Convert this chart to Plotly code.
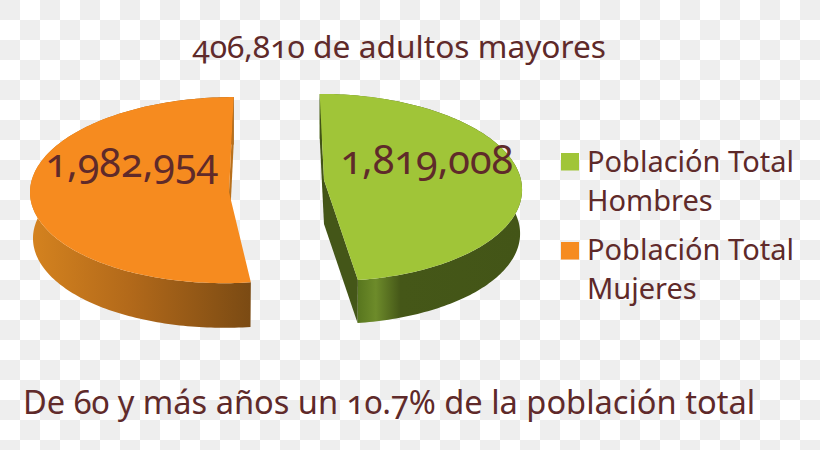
import numpy as np
import plotly.graph_objects as go

categories = ["Población Total Hombres", "Población Total Mujeres"]
values = [1819008, 1982954]
title_text = "406,810 de adultos mayores"
footer_text = "De 60 y más años un 10.7% de la población total"
legend_lines = [["Población Total", "Hombres"], ["Población Total", "Mujeres"]]

TEXT = "#5f2a2a"
FONT = "Noto Sans"
GREEN, ORANGE = "#a0c538", "#f68b1f"
CHECK = "#eeeeee"

total = sum(values)
male_end = 2 * np.pi * values[0] / total


def ring(theta, g, down=0.0, sc=1.0):
    u, v = np.sin(theta), np.cos(theta)
    d = 1 + g["k"] * v
    yy = -g["ry"] * sc * v / d
    return g["cx"] + g["rx"] * sc * u / d + g["s"] * yy, g["cy"] + down + yy


green = dict(cx=324, cy=180, rx=197, ry=93, k=0.08, s=0.05, depth=44, sc=0.99)
orange = dict(cx=229, cy=192, rx=199, ry=93, k=-0.02, s=-0.05, depth=46, sc=0.985)

fig = go.Figure()


def poly(x, y, color=None, grad=None):
    kw = dict(x=x, y=y, mode="none", fill="toself", hoverinfo="skip", showlegend=False)
    if grad:
        kw["fillgradient"] = grad
    else:
        kw["fillcolor"] = color
    fig.add_trace(go.Scatter(**kw))


def wedge(a0, a1, g, color, side_grad, faces):
    th = np.linspace(a0, a1, 160)
    tx, ty = ring(th, g)
    bx, by = ring(th, g, g["depth"], g["sc"])
    ax, ay = ring(np.array([0.0]), {**g, "rx": 0, "ry": 0})
    axb, ayb = ax[0], ay[0] + g["depth"]
    # rim wall
    poly(np.r_[tx, bx[::-1]], np.r_[ty, by[::-1]], grad=side_grad)
    # radial cut faces
    for ang, col in faces:
        fx, fy = ring(np.array([ang]), g)
        gx, gy = ring(np.array([ang]), g, g["depth"], g["sc"])
        poly([ax[0], fx[0], gx[0], axb], [ay[0], fy[0], gy[0], ayb], color=col)
    # top
    poly(np.r_[ax, tx], np.r_[ay, ty], color=color)


wedge(male_end, 2 * np.pi, orange, ORANGE,
      dict(type="horizontal", start=30, stop=252,
           colorscale=[[0, "#d5831f"], [0.45, "#b2691a"], [1, "#7a4a13"]]),
      [(2 * np.pi, "#b8701c")])
wedge(0, male_end, green, GREEN,
      dict(type="horizontal", start=356, stop=521,
           colorscale=[[0, "#56741d"], [0.12, "#6d8b2a"], [0.27, "#455718"], [1, "#435517"]]),
      [(0, "#425316"), (male_end, "#445618")])

path = ""
for i in range(41):
    for j in range(23):
        if (i + j) % 2 == 0:
            x0, y0 = i * 20, j * 20
            path += f"M{x0},{y0}H{x0+20}V{y0+20}H{x0}Z"

shapes = [dict(type="path", path=path, xref="x", yref="y", fillcolor=CHECK,
               line_width=0, layer="below")]
for col, y0 in zip([GREEN, ORANGE], [153, 242]):
    shapes.append(dict(type="rect", xref="x", yref="y", x0=561, x1=579, y0=y0, y1=y0 + 17.5,
                       fillcolor=col, line_width=0))


def label(txt, x, y, size, anchor="center"):
    return dict(text=txt, x=x, y=y, xref="x", yref="y", showarrow=False, xanchor=anchor, yanchor="middle",
                font=dict(family=FONT, size=size, color=TEXT))


ann = [
    label(title_text, 399, 45, 31.7),
    label(footer_text, 389, 401, 32.6),
    label(f"{values[1]:,}", 132, 162, 39.6),
    label(f"{values[0]:,}", 427, 159, 39.6),
]
for lines, y0 in zip(legend_lines, [160, 248]):
    ann.append(label(lines[0], 585, y0, 29, "left"))
    ann.append(label(lines[1], 585, y0 + 39, 29, "left"))

fig.update_layout(
    width=820, height=450, margin=dict(l=0, r=0, t=0, b=0),
    paper_bgcolor="white", plot_bgcolor="white", showlegend=False,
    xaxis=dict(range=[0, 820], visible=False, fixedrange=True),
    yaxis=dict(range=[450, 0], visible=False, fixedrange=True),
    shapes=shapes, annotations=ann,
)
post = ("var s=document.createElement('style');"
        "s.textContent='body{margin:0;overflow:hidden;}text{font-feature-settings:\"onum\" 1;}';"
        "document.head.appendChild(s);")
fig.write_html("out.html", config=dict(displayModeBar=False), post_script=post)
